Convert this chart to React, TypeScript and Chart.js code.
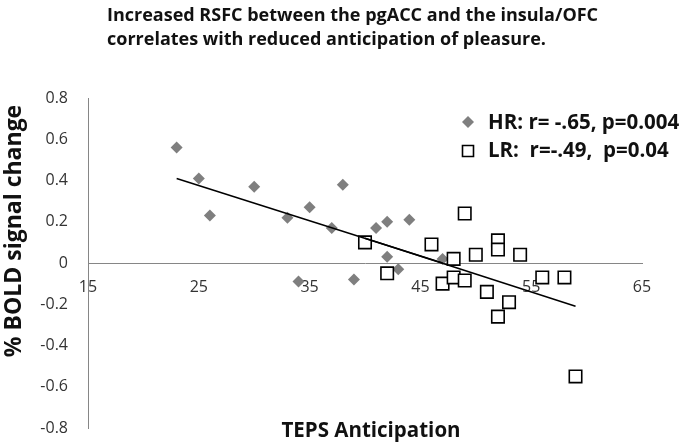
import React, { useEffect, useRef } from "react";
import { Chart, registerables } from "chart.js";

Chart.register(...registerables);

const titleLines = [
  "Increased RSFC between the pgACC and the insula/OFC",
  "correlates with reduced anticipation of pleasure.",
];
const xAxisTitle = "TEPS Anticipation";
const yAxisTitle = "% BOLD signal change";
const hrLabel = "HR: r= -.65, p=0.004";
const lrLabel = "LR:  r=-.49,  p=0.04";

const xTicks = [15, 25, 35, 45, 55, 65];
const yTicks = [-0.8, -0.6, -0.4, -0.2, 0, 0.2, 0.4, 0.6, 0.8];

const hrX = [23, 25, 26, 30, 33, 34, 35, 37, 38, 39, 41, 42, 42, 43, 44, 47];
const hrY = [0.56, 0.41, 0.23, 0.37, 0.22, -0.09, 0.27, 0.17, 0.38, -0.08, 0.17, 0.2, 0.03, -0.03, 0.21, 0.02];

const lrX = [40, 42, 46, 47, 48, 48, 49, 49, 50, 51, 52, 52, 52, 53, 54, 56, 58, 59];
const lrY = [0.1, -0.05, 0.09, -0.1, 0.02, -0.07, 0.24, -0.085, 0.04, -0.14, 0.11, 0.065, -0.26, -0.19, 0.04, -0.07, -0.07, -0.55];

const hrTrendX = [23, 47];
const hrTrendY = [0.41, 0.0];
const lrTrendX = [40, 59];
const lrTrendY = [0.12, -0.21];

const FONT = "'Open Sans', 'DejaVu Sans', sans-serif";

const pts = (xs: number[], ys: number[]) => xs.map((x, i) => ({ x, y: ys[i] }));

const textPlugin = {
  id: "customText",
  afterDraw(chart: any) {
    const ctx = chart.ctx as CanvasRenderingContext2D;
    ctx.save();
    ctx.fillStyle = "#111";
    ctx.textBaseline = "middle";
    // title
    ctx.font = `bold 18px ${FONT}`;
    ctx.textAlign = "left";
    ctx.fillText(titleLines[0], 107, 16);
    ctx.fillText(titleLines[1], 107, 40);
    // x axis title
    ctx.font = `bold 20.5px ${FONT}`;
    ctx.textAlign = "center";
    ctx.fillText(xAxisTitle, 371, 431);
    // y axis title
    ctx.save();
    ctx.translate(14, 231);
    ctx.rotate(-Math.PI / 2);
    ctx.font = `bold 23px ${FONT}`;
    ctx.fillText(yAxisTitle, 0, 0);
    ctx.restore();
    // legend
    ctx.font = `bold 20.5px ${FONT}`;
    ctx.textAlign = "left";
    ctx.fillText(hrLabel, 488, 123);
    ctx.fillText(lrLabel, 488, 151);
    // legend markers
    ctx.fillStyle = "#7f7f7f";
    ctx.beginPath();
    ctx.moveTo(468 - 6, 122);
    ctx.lineTo(468, 122 - 6);
    ctx.lineTo(468 + 6, 122);
    ctx.lineTo(468, 122 + 6);
    ctx.closePath();
    ctx.fill();
    ctx.strokeStyle = "#000";
    ctx.lineWidth = 1.6;
    ctx.fillStyle = "#fff";
    ctx.beginPath();
    ctx.rect(468 - 5.5, 151 - 5.5, 11, 11);
    ctx.fill();
    ctx.stroke();
    ctx.restore();
  },
};

export default function App() {
  const ref = useRef<HTMLCanvasElement>(null);
  useEffect(() => {
    if (!ref.current) return;
    const chart = new Chart(ref.current, {
      type: "scatter",
      data: {
        datasets: [
          {
            label: "HR trend",
            type: "line",
            data: pts(hrTrendX, hrTrendY),
            borderColor: "#000",
            borderWidth: 1.5,
            pointRadius: 0,
            fill: false,
            order: 0,
          } as any,
          {
            label: "LR trend",
            type: "line",
            data: pts(lrTrendX, lrTrendY),
            borderColor: "#000",
            borderWidth: 1.5,
            pointRadius: 0,
            fill: false,
            order: 1,
          } as any,
          {
            label: "LR",
            data: pts(lrX, lrY),
            pointStyle: "rect",
            pointRadius: 8.8,
            backgroundColor: "#fff",
            borderColor: "#000",
            borderWidth: 1.6,
            order: 2,
          },
          {
            label: "HR",
            data: pts(hrX, hrY),
            pointStyle: "rectRot",
            pointRadius: 6,
            backgroundColor: "#7f7f7f",
            borderColor: "#7f7f7f",
            borderWidth: 0,
            order: 3,
          },
        ],
      },
      options: {
        responsive: false,
        animation: false,
        layout: { padding: { top: 98, bottom: 19, left: 0, right: 43 } },
        plugins: {
          legend: { display: false },
          tooltip: { enabled: false },
          title: { display: false },
        },
        scales: {
          x: {
            type: "linear",
            position: { y: 0 } as any,
            min: 15,
            max: 65,
            afterBuildTicks: (scale: any) => {
              scale.ticks = xTicks.map((v) => ({ value: v }));
            },
            afterFit: (scale: any) => {
              scale.height = 0;
            },
            grid: { display: false, drawTicks: true, tickLength: 15 },
            border: { display: true, color: "#868686", width: 1 },
            ticks: {
              font: { family: FONT, size: 16 },
              color: "#333",
              padding: 0,
              maxRotation: 0,
            },
          },
          y: {
            type: "linear",
            min: -0.8,
            max: 0.8,
            afterBuildTicks: (scale: any) => {
              scale.ticks = yTicks.map((v) => ({ value: v }));
            },
            afterFit: (scale: any) => {
              scale.width = 88;
            },
            grid: { display: false, drawTicks: true, tickLength: 20 },
            border: { display: true, color: "#868686", width: 1 },
            ticks: {
              font: { family: FONT, size: 16 },
              color: "#333",
              padding: 0,
              callback: (v: any) => (Math.abs(v) < 1e-9 ? "0" : Number(v).toFixed(1)),
            },
          },
        },
      },
      plugins: [textPlugin],
    });
    return () => chart.destroy();
  }, []);
  return (
    <canvas
      ref={ref}
      width={685}
      height={447}
      style={{ position: "absolute", left: 0, top: 0, display: "block" }}
    />
  );
}
